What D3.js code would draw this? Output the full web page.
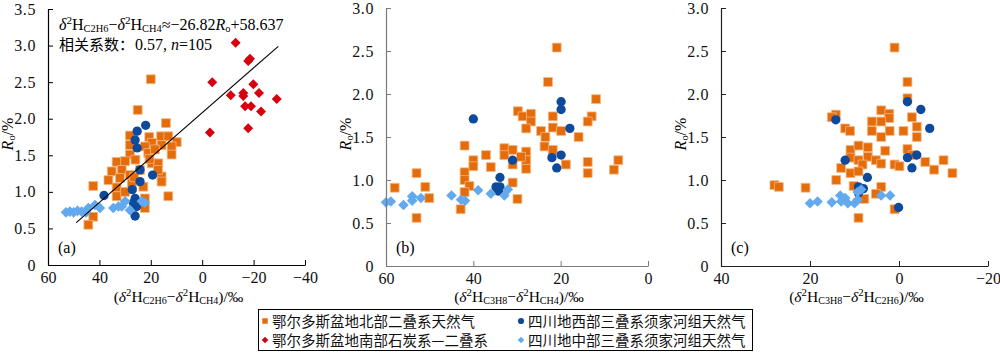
<!DOCTYPE html>
<html>
<head>
<meta charset="utf-8">
<script src="https://cdn.jsdelivr.net/npm/d3@7"></script>
<style>
  body { margin: 0; background: #fff; }
  svg text { font-family: "Liberation Serif", "Times New Roman", serif; }
</style>
</head>
<body>
<div id="chart"></div>
<script>
// Series names (legend)
const seriesNames = ["鄂尔多斯盆地北部二叠系天然气", "鄂尔多斯盆地南部石炭系—二叠系",
                     "四川地西部三叠系须家河组天然气", "四川地中部三叠系须家河组天然气"];

// Panel (a): δ2H(C2H6) - δ2H(CH4) vs Ro
const aOrange = [[28.1,1.77],[20.6,1.75],[16.0,1.76],[13.2,1.76],[9.9,1.68],[19.6,1.67],[15.8,1.64],[11.9,1.62],
  [28.1,1.64],[22.3,1.62],[28.1,1.51],[21.0,1.53],[18.4,1.58],[11.9,1.51],[33.3,1.41],[30.0,1.42],[19.6,1.39],
  [17.1,1.39],[35.2,1.28],[31.3,1.30],[36.5,1.16],[32.0,1.19],[28.1,1.23],[15.8,1.21],[15.8,1.14],[42.4,1.08],
  [33.3,1.06],[27.4,1.11],[22.9,1.07],[13.2,0.94],[33.3,0.94],[22.3,0.91],[22.3,0.78],[42.4,0.66],[44.3,0.55],
  [25.1,2.12],[20.0,2.54],[14.1,1.94],[30.0,1.00],[24.2,1.30],[17.2,1.30],[26.0,1.44],[20.5,1.45],[26.5,1.20]];
const aRed = [[-13.0,3.04],[-18.6,2.82],[-17.9,2.79],[-3.9,2.50],[-19.9,2.47],[-11.1,2.32],[-16.0,2.35],[-16.0,2.31],
  [-22.1,2.35],[-29.0,2.27],[-16.7,2.17],[-19.0,2.17],[-22.9,2.10],[-3.0,1.81],[-17.9,1.87]];
const aBlue = [[22.0,1.91],[25.3,1.83],[26.1,1.71],[25.3,1.60],[24.2,1.30],[19.3,1.23],[24.2,1.14],[27.2,1.03],
  [38.2,0.95],[26.1,0.91],[26.8,0.85],[26.1,0.67],[25.5,0.80]];
const aLight = [[53.0,0.72],[51.5,0.73],[50.0,0.72],[48.5,0.74],[46.9,0.73],[45.2,0.72],[44.3,0.78],[41.7,0.82],
  [39.8,0.78],[34.6,0.78],[32.6,0.80],[31.3,0.80],[30.0,0.87],[28.1,0.75],[23.5,0.87],[22.3,0.85]];
// regression line end points as drawn
const aFit = [[49.0,0.58],[-29.6,2.99]];

// Panel (b): δ2H(C3H8) - δ2H(CH4) vs Ro
const bOrange = [[20.9,2.54],[22.9,2.14],[11.9,1.94],[29.8,1.80],[28.7,1.74],[26.8,1.77],[26.8,1.68],[27.9,1.60],
  [21.8,1.74],[12.9,1.74],[13.8,1.68],[24.5,1.57],[23.5,1.50],[21.8,1.61],[19.9,1.57],[15.9,1.50],[42.0,1.40],
  [32.9,1.37],[31.0,1.35],[32.9,1.29],[37.1,1.29],[40.0,1.23],[40.0,1.16],[36.0,1.15],[27.9,1.33],[27.9,1.23],
  [27.9,1.13],[29.1,1.27],[31.0,1.18],[23.7,1.39],[21.8,1.35],[18.8,1.18],[13.8,1.21],[13.8,1.08],[6.8,1.23],
  [7.8,1.12],[42.0,1.09],[42.0,1.00],[40.9,0.93],[42.0,0.86],[53.0,1.08],[58.0,0.91],[51.0,0.92],[50.1,0.79],
  [53.0,0.56],[42.9,0.66],[31.0,0.97],[29.9,0.78]];
const bBlue = [[40.0,1.71],[19.9,1.91],[19.9,1.82],[17.9,1.60],[31.0,1.23],[22.0,1.26],[19.9,1.29],[20.9,1.14],
  [33.9,1.03],[34.8,0.92],[33.9,0.92],[34.2,0.87]];
const bLight = [[60.0,0.74],[58.9,0.75],[56.0,0.71],[54.0,0.81],[54.0,0.76],[52.0,0.79],[45.0,0.82],[42.8,0.77],
  [41.9,0.76],[38.9,0.88],[36.0,0.84],[32.9,0.82],[32.1,0.89]];

// Panel (c): δ2H(C3H8) - δ2H(C2H6) vs Ro
const cOrange = [[1.0,2.54],[-1.9,2.14],[-1.9,1.95],[14.2,1.76],[15.1,1.73],[12.1,1.60],[11.0,1.57],[4.0,1.81],
  [2.2,1.77],[2.2,1.72],[6.1,1.68],[4.0,1.68],[6.1,1.57],[2.1,1.57],[4.0,1.50],[-1.0,1.57],[-2.9,1.73],[-4.0,1.62],
  [-4.0,1.50],[10.9,1.35],[9.1,1.40],[7.0,1.38],[3.1,1.34],[10.9,1.26],[9.1,1.23],[7.0,1.27],[5.2,1.23],[4.0,1.19],
  [8.2,1.18],[13.0,1.14],[10.9,1.08],[9.1,1.10],[1.0,1.18],[-0.1,1.16],[-1.9,1.36],[-3.1,1.29],[-5.9,1.21],
  [-7.9,1.12],[-10.0,1.23],[-12.0,1.08],[14.1,1.00],[10.2,0.93],[4.0,0.92],[5.2,0.84],[7.8,0.78],[1.0,0.66],
  [9.1,0.56],[28.0,0.94],[27.0,0.92],[21.0,0.91]];
const cBlue = [[14.2,1.70],[-1.9,1.91],[-4.9,1.82],[-6.9,1.60],[12.1,1.23],[-1.9,1.26],[-4.0,1.29],[-2.9,1.14],
  [7.1,1.03],[9.1,0.92],[8.0,0.90],[9.1,0.85],[0.1,0.68]];
const cLight = [[20.0,0.73],[18.3,0.75],[15.1,0.74],[13.2,0.82],[13.0,0.75],[12.1,0.79],[11.5,0.73],[10.0,0.73],
  [9.3,0.77],[8.5,0.89],[9.3,0.86],[4.0,0.82],[2.0,0.82]];

const colors = ["#E46C0A", "#D7000F", "#0E4A9C", "#62A9EE"];

const width = 1000, height = 353;
const svg = d3.select("#chart").append("svg").attr("width", width).attr("height", height);

// panel layout
const panels = [
  { id: "a", x0: 48, x1: 305, y0: 265, y1: 9, xDom: [60, -40], yDom: [0, 3.5], xTicks: [60, 40, 20, 0, -20, -40],
    yTicks: [0, 0.5, 1, 1.5, 2, 2.5, 3, 3.5], axisColor: "#000", label: "(a)",
    title: [["(",""],["δ","i"],["2","sup"],["H",""],["C2H6","sub"],["−",""],["δ","i"],["2","sup"],["H",""],["CH4","sub"],[")/‰",""]],
    series: [aOrange, aRed, aBlue, aLight] },
  { id: "b", x0: 386, x1: 648, y0: 266, y1: 8, xDom: [60, 0], yDom: [0, 3.0], xTicks: [60, 40, 20, 0],
    yTicks: [0, 0.5, 1, 1.5, 2, 2.5, 3], axisColor: "#7a7a7a", label: "(b)",
    title: [["(",""],["δ","i"],["2","sup"],["H",""],["C3H8","sub"],["−",""],["δ","i"],["2","sup"],["H",""],["CH4","sub"],[")/‰",""]],
    series: [bOrange, [], bBlue, bLight] },
  { id: "c", x0: 721, x1: 988, y0: 266, y1: 8, xDom: [40, -20], yDom: [0, 3.0], xTicks: [40, 20, 0, -20],
    yTicks: [0, 0.5, 1, 1.5, 2, 2.5, 3], axisColor: "#222", label: "(c)",
    title: [["(",""],["δ","i"],["2","sup"],["H",""],["C3H8","sub"],["−",""],["δ","i"],["2","sup"],["H",""],["C2H6","sub"],[")/‰",""]],
    series: [cOrange, [], cBlue, cLight] }
];

// rich text helper: pieces of [text, style]; sub/sup are shifted with dy and reset afterwards
function rich(sel, pieces, size) {
  let shift = 0;
  pieces.forEach(([t, s]) => {
    const ts = sel.append("tspan").text(t);
    let target = 0;
    if (s === "i") ts.style("font-style", "italic");
    if (s === "sup") { ts.attr("font-size", size * 0.7); target = -size * 0.38; }
    if (s === "sub") { ts.attr("font-size", size * 0.65); target = size * 0.15; }
    if (target !== shift) { ts.attr("dy", target - shift); shift = target; }
  });
}

const symSquare = d3.symbol().type(d3.symbolSquare);
const symCircle = d3.symbol().type(d3.symbolCircle);

function drawMarks(g, data, k, x, y) {
  const sel = g.append("g").selectAll("path").data(data).enter().append("path")
    .attr("fill", colors[k]);
  if (k === 0) {
    sel.attr("d", symSquare.size(78)())
      .attr("stroke", "#f5b680").attr("stroke-width", 0.8)
      .attr("transform", d => `translate(${x(d[0])},${y(d[1])})`);
  } else if (k === 2) {
    sel.attr("d", symCircle.size(68)())
      .attr("transform", d => `translate(${x(d[0])},${y(d[1])})`);
  } else {
    sel.attr("d", symSquare.size(k === 1 ? 50 : 56)())
      .attr("transform", d => `translate(${x(d[0])},${y(d[1])}) rotate(45)`);
  }
}

panels.forEach(p => {
  const x = d3.scaleLinear().domain(p.xDom).range([p.x0, p.x1]);
  const y = d3.scaleLinear().domain(p.yDom).range([p.y0, p.y1]);
  const g = svg.append("g");

  // marks
  p.series.forEach((data, k) => drawMarks(g, data, k, x, y));

  if (p.id === "a") {
    g.append("line")
      .attr("x1", x(aFit[0][0])).attr("y1", y(aFit[0][1]))
      .attr("x2", x(aFit[1][0])).attr("y2", y(aFit[1][1]))
      .attr("stroke", "#000").attr("stroke-width", 1.1);

    const eq = g.append("text").attr("x", 59).attr("y", 30).attr("font-size", 16);
    rich(eq, [["δ","i"],["2","sup"],["H",""],["C2H6","sub"],["−",""],["δ","i"],["2","sup"],["H",""],
      ["CH4","sub"],["≈−26.82",""],["R","i"],["o","sub"],["+58.637",""]], 16);
    g.append("text").attr("x", 59).attr("y", 50).attr("font-size", 15)
      .style("font-family", "'Noto Sans CJK SC', sans-serif").text("相关系数：");
    const eq2 = g.append("text").attr("x", 135).attr("y", 50).attr("font-size", 16);
    eq2.append("tspan").text("0.57, ");
    eq2.append("tspan").text("n").style("font-style", "italic");
    eq2.append("tspan").text("=105");
  }

  // axes
  const xAxis = g.append("g").attr("transform", `translate(0,${p.y0})`)
    .call(d3.axisBottom(x).tickValues(p.xTicks).tickSize(-5).tickPadding(7).tickSizeOuter(0)
      .tickFormat(d => d3.format("d")(d)));
  const yAxis = g.append("g").attr("transform", `translate(${p.x0},0)`)
    .call(d3.axisLeft(y).tickValues(p.yTicks).tickSize(-5).tickPadding(12).tickSizeOuter(0)
      .tickFormat(d => d === 0 ? "0" : d3.format(".1f")(d)));
  [xAxis, yAxis].forEach(a => {
    a.select(".domain").attr("stroke", p.axisColor).attr("stroke-width", 1.2);
    a.selectAll(".tick line").attr("stroke", p.axisColor);
    a.selectAll(".tick text").attr("font-size", 16).attr("fill", "#111")
      .style("font-family", "'Liberation Serif', serif");
  });
  yAxis.selectAll(".tick text").style("letter-spacing", "0.6px");

  // axis titles
  const xt = g.append("text").attr("x", (p.x0 + p.x1) / 2 + 2).attr("y", 302)
    .attr("text-anchor", "middle").attr("font-size", 15.5);
  rich(xt, p.title, 15.5);

  const yt = g.append("text").attr("transform", `translate(${p.x0 - 35},134) rotate(-90)`)
    .attr("text-anchor", "middle").attr("font-size", 16);
  rich(yt, [["R","i"],["o","sub"],["/%",""]], 16);

  // panel label
  g.append("text").attr("x", p.x0 + 10).attr("y", 253).attr("font-size", 16).text(p.label);
});

// legend
const lg = svg.append("g");
lg.append("rect").attr("x", 258.5).attr("y", 309.5).attr("width", 494).attr("height", 41)
  .attr("fill", "#fff").attr("stroke", "#000").attr("stroke-width", 1);
const legPos = [[265, 321], [265, 340], [521, 321], [521, 340]];
seriesNames.forEach((name, k) => {
  const [lx, ly] = legPos[k];
  const m = lg.append("path").attr("fill", colors[k]);
  if (k === 0) m.attr("d", symSquare.size(30)()).attr("transform", `translate(${lx},${ly})`);
  else if (k === 2) m.attr("d", symCircle.size(30)()).attr("transform", `translate(${lx},${ly})`);
  else m.attr("d", symSquare.size(22)()).attr("transform", `translate(${lx},${ly}) rotate(45)`);
  lg.append("text").attr("x", lx + 7).attr("y", ly + 5.5).attr("font-size", 14.5)
    .style("font-family", "'Noto Sans CJK SC', sans-serif").attr("fill", "#111").text(name);
});
</script>
</body>
</html>
